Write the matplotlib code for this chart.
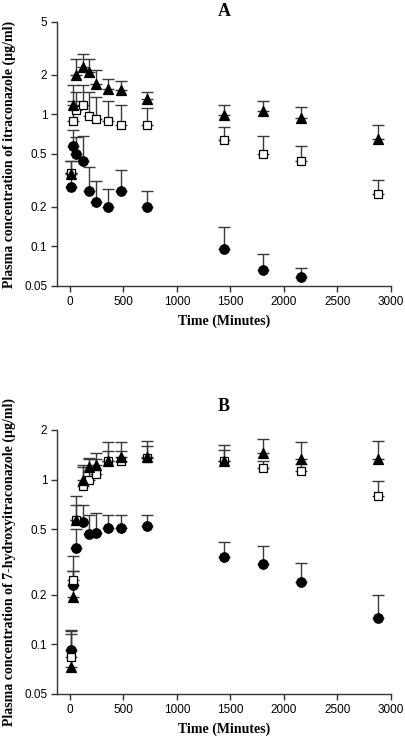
import numpy as np
import matplotlib
matplotlib.use("Agg")
import matplotlib.pyplot as plt
from matplotlib.ticker import FixedLocator, FixedFormatter, NullLocator

# sampling times (minutes)
times = [15, 30, 60, 120, 180, 240, 360, 480, 720, 1440, 1800, 2160, 2880]

# panel A: itraconazole
itra_tri = [0.355, 1.17, 2.0, 2.28, 2.09, 1.71, 1.55, 1.53, 1.30, 0.99, 1.05, 0.93, 0.65]
itra_tri_up = [0.44, 1.67, 2.6, 2.88, 2.6, 2.15, 1.84, 1.78, 1.48, 1.18, 1.25, 1.13, 0.835]
itra_sq = [0.36, 0.885, 1.07, 1.18, 0.97, 0.92, 0.885, 0.835, 0.83, 0.635, 0.50, 0.44, 0.25]
itra_sq_up = [0.44, 1.25, 1.47, 1.68, 1.47, 1.35, 1.25, 1.18, 1.12, 0.80, 0.68, 0.575, 0.32]
itra_circ_t = times[:12]
itra_circ = [0.28, 0.57, 0.50, 0.44, 0.26, 0.216, 0.20, 0.26, 0.20, 0.095, 0.066, 0.059]
itra_circ_up = [0.36, 0.76, 0.67, 0.69, 0.40, 0.31, 0.27, 0.38, 0.26, 0.139, 0.087, 0.068]

# panel B: 7-hydroxyitraconazole
hyd_tri = [0.073, 0.194, 0.565, 0.99, 1.19, 1.22, 1.30, 1.38, 1.38, 1.29, 1.46, 1.33, 1.34]
hyd_tri_up = [0.12, 0.28, 0.79, 1.23, 1.36, 1.46, 1.68, 1.68, 1.72, 1.62, 1.76, 1.70, 1.72]
hyd_sq = [0.084, 0.247, 0.57, 0.92, 0.99, 1.08, 1.29, 1.29, 1.35, 1.29, 1.18, 1.12, 0.80]
hyd_sq_up = [0.116, 0.346, 0.70, 1.20, 1.33, 1.33, 1.50, 1.50, 1.61, 1.52, 1.30, 1.25, 0.98]
hyd_circ = [0.092, 0.228, 0.385, 0.55, 0.47, 0.475, 0.51, 0.51, 0.52, 0.338, 0.308, 0.24, 0.145]
hyd_circ_up = [0.123, 0.278, 0.50, 0.70, 0.61, 0.63, 0.61, 0.61, 0.614, 0.417, 0.394, 0.31, 0.20]

yticks_A = [0.05, 0.1, 0.2, 0.5, 1, 2, 5]
yticks_B = [0.05, 0.1, 0.2, 0.5, 1, 2]
xticks = [0, 500, 1000, 1500, 2000, 2500, 3000]

sans = "Liberation Sans"
serif = "Liberation Serif"
errc = "#3a3a3a"


def series(ax, t, y, up, marker, face, ms):
    t = np.array(t)
    y = np.array(y)
    up = np.array(up)
    ax.errorbar(t, y, yerr=[np.zeros_like(y), up - y], fmt="none",
                ecolor=errc, elinewidth=1.0, capsize=4.5, capthick=1.0, zorder=2)
    ax.plot(t, y, linestyle="none", marker=marker, markersize=ms,
            markerfacecolor=face, markeredgecolor="black", markeredgewidth=0.9, zorder=3)


def style(ax, yticks, ylim, ylabel, title, title_pad):
    ax.set_yscale("log")
    ax.set_xlim(-120, 3000)
    ax.set_ylim(*ylim)
    ax.yaxis.set_major_locator(FixedLocator(yticks))
    ax.yaxis.set_major_formatter(FixedFormatter([("%g" % v) for v in yticks]))
    ax.yaxis.set_minor_locator(NullLocator())
    ax.set_xticks(xticks)
    ax.spines["top"].set_visible(False)
    ax.spines["right"].set_visible(False)
    for s in ("left", "bottom"):
        ax.spines[s].set_color("#333333")
        ax.spines[s].set_linewidth(1.0)
    ax.tick_params(length=4, width=1.0, color="#333333", labelsize=8.5, pad=3)
    for lab in ax.get_xticklabels() + ax.get_yticklabels():
        lab.set_fontfamily(sans)
    ax.set_xlabel("Time (Minutes)", fontfamily=serif, fontweight="bold", fontsize=10, labelpad=5)
    ax.set_ylabel(ylabel, fontfamily=serif, fontweight="bold", fontsize=10, labelpad=6)
    ax.set_title(title, fontfamily=serif, fontweight="bold", fontsize=13, pad=title_pad)


fig = plt.figure(figsize=(4.05, 7.40), dpi=100)
axA = fig.add_axes([57 / 405, 1 - 286 / 740, 334 / 405, 264 / 740])
axB = fig.add_axes([57 / 405, 1 - 694 / 740, 334 / 405, 264 / 740])

series(axA, itra_circ_t, itra_circ, itra_circ_up, "o", "black", 6.8)
series(axA, times, itra_sq, itra_sq_up, "s", "white", 5.5)
series(axA, times, itra_tri, itra_tri_up, "^", "black", 6.8)
style(axA, yticks_A, (0.05, 5), "Plasma concentration of itraconazole (\u00b5g/ml)", "A", 4)

series(axB, times, hyd_circ, hyd_circ_up, "o", "black", 6.8)
series(axB, times, hyd_sq, hyd_sq_up, "s", "white", 5.5)
series(axB, times, hyd_tri, hyd_tri_up, "^", "black", 6.8)
style(axB, yticks_B, (0.05, 2), "Plasma concentration of 7-hydroxyitraconazole (\u00b5g/ml)", "B", 14)

fig.savefig("out.png", dpi=100)
